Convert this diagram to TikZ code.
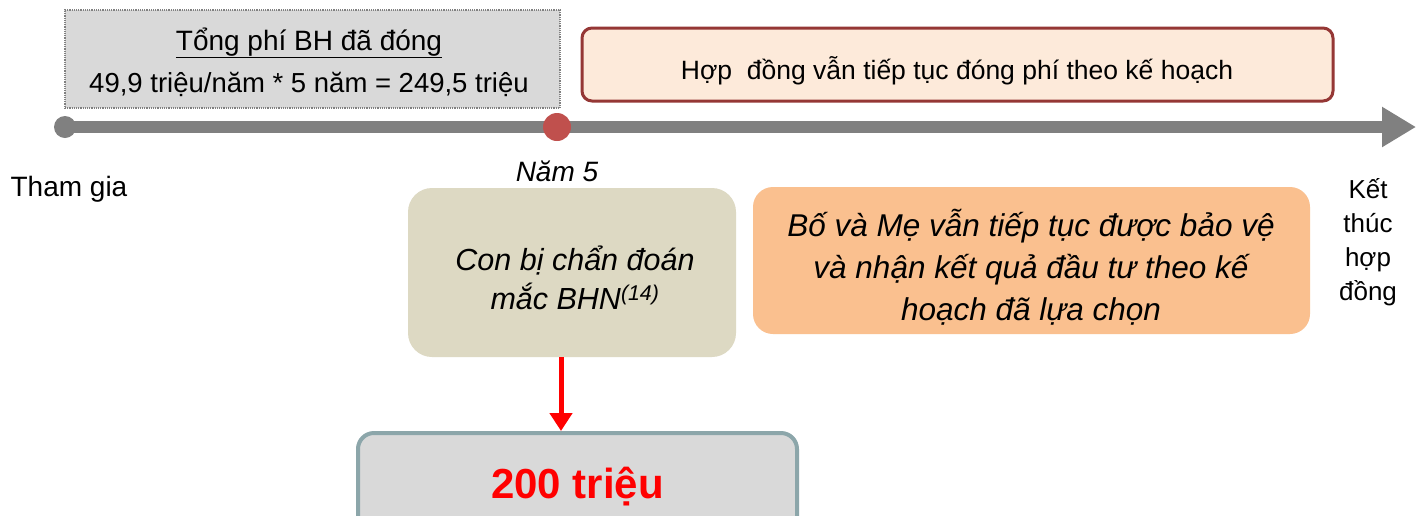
\documentclass[tikz,border=0pt]{standalone}
\usepackage{fontspec}
\setmainfont{Liberation Sans}
\usepackage{xcolor}
\usetikzlibrary{arrows.meta,positioning}
\definecolor{linegray}{RGB}{128,128,128}
\definecolor{dotred}{RGB}{192,80,77}
\definecolor{paidgray}{RGB}{217,217,217}
\definecolor{planfill}{RGB}{253,234,218}
\definecolor{planedge}{RGB}{149,55,53}
\definecolor{beige}{RGB}{221,217,195}
\definecolor{orangefill}{RGB}{250,192,143}
\definecolor{payedge}{RGB}{140,166,170}

\begin{document}
\begin{tikzpicture}[x=1pt,y=-1pt,
  txt/.style={inner sep=0pt, align=center, font=\fontsize{28}{34}\selectfont},
  block/.style={inner sep=0pt, align=center, rounded corners=24pt}]
\clip (0,0) rectangle (1424,515);
\fill[white] (0,0) rectangle (1424,515);

% timeline
\coordinate (start) at (65,127);
\coordinate (stop) at (1416,127);
\draw [line width=12pt, linegray, -{Triangle[length=34pt,width=38pt]}] (start) -- (stop);
\node (join) [circle, fill=linegray, minimum size=22pt, inner sep=0pt] at (start) {};
\node (year) [circle, fill=dotred, minimum size=28pt, inner sep=0pt] at (557,127) {};

% premium paid
\node (paid) [rectangle, draw=linegray, densely dotted, line width=1.2pt, fill=paidgray, minimum width=495pt, minimum height=98pt] at (312.5,59) {};
\node (paidtitle) [txt] at (309,43) {\underline{Tổng phí BH đã đóng}};
\node (paidcalc) [txt, font=\fontsize{27.5}{34}\selectfont] at (309,84) {49,9 triệu/năm * 5 năm = 249,5 triệu};

\node (plan) [draw=planedge, line width=3pt, fill=planfill, rounded corners=10pt, minimum width=751pt, minimum height=73pt] at (957.5,64.5) {};
\node (plantext) [txt, font=\fontsize{26.5}{32}\selectfont] at (957,71) {Hợp\ \ đồng vẫn tiếp tục đóng phí theo kế hoạch};

\node (joinlabel) [txt] at (69,189) {Tham gia};
\node (yearlabel) [txt, font=\fontsize{28}{34}\selectfont\itshape] at (557,171) {Năm 5};
\node (endlabel) [txt, font=\fontsize{26}{34}\selectfont] at (1368,242) {Kết\\thúc\\hợp\\đồng};

% events
\node (diag) [block, fill=beige, minimum width=328pt, minimum height=169pt] at (572,272.5) {};
\node (diagtext) [txt, font=\fontsize{30.5}{39}\selectfont\itshape] at (575,278) {Con bị chẩn đoán\\mắc BHN\textsuperscript{(14)}};
\node (cover) [block, rounded corners=20pt, fill=orangefill, minimum width=557pt, minimum height=147pt] at (1031.5,260.5) {};
\node (covertext) [txt, font=\fontsize{31.5}{42}\selectfont\itshape] at (1031,267) {Bố và Mẹ vẫn tiếp tục được bảo vệ\\và nhận kết quả đầu tư theo kế\\hoạch đã lựa chọn};
\node (payout) [block, rounded corners=16pt, draw=payedge, line width=4pt, fill=paidgray, minimum width=439pt, minimum height=108pt, font=\fontsize{42}{48}\selectfont\bfseries, text=red] at (577.5,487) {200 triệu};

\draw [red, line width=5pt, -{Triangle[length=18pt,width=22pt]}] ([xshift=-11pt]diag.south) -- ([xshift=-16.5pt]payout.north);
\end{tikzpicture}
\end{document}
